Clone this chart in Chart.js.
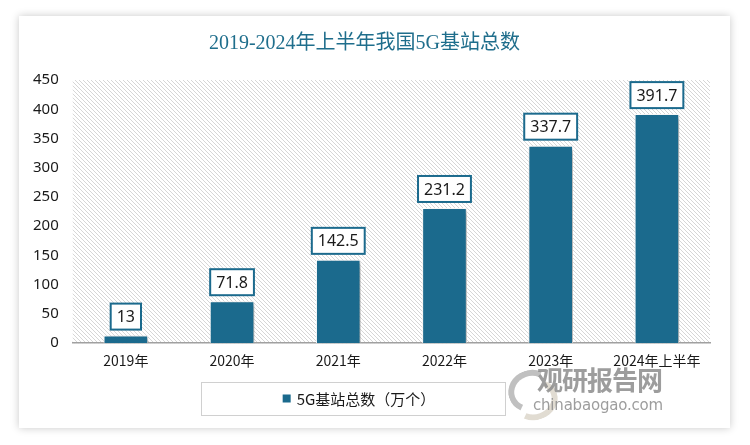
<!DOCTYPE html>
<html>
<head>
<meta charset="utf-8">
<script src="https://cdn.jsdelivr.net/npm/chart.js@4/dist/chart.umd.min.js"></script>
<style>
  html, body { margin: 0; padding: 0; background: #fff; }
  body { width: 750px; height: 445px; position: relative; overflow: hidden; }
  #card {
    position: absolute; left: 19px; top: 16px; width: 711px; height: 412px;
    background: #fff; box-shadow: 0 0 8px rgba(0,0,0,0.22);
  }
  #stage { display: block; }
  .wm { position: absolute; color: #8c8c8c; opacity: 0.85; white-space: nowrap; }
  #wm1 { left: 537px; top: 360px; font: bold 26px "Noto Sans CJK SC", sans-serif; letter-spacing: -1px; }
  #wm2 { left: 533px; top: 396px; font: 15px "DejaVu Sans", sans-serif; letter-spacing: -0.2px; }
  .sw { position: absolute; border-radius: 50%; border: 6px solid transparent; opacity: 0.55; }
  #sw1 { left: 508px; top: 370px; width: 34px; height: 30px; border-top-color: #8c8c8c; border-left-color: #8c8c8c; transform: rotate(-20deg); }
  #sw2 { left: 512px; top: 380px; width: 34px; height: 28px; border-bottom-color: #c8bfae; border-right-color: #c8bfae; transform: rotate(-20deg); }
</style>
</head>
<body>
<div id="card"><canvas id="stage" width="711" height="412"></canvas></div>
<div class="sw" id="sw1"></div>
<div class="sw" id="sw2"></div>
<div class="wm" id="wm1">观研报告网</div>
<div class="wm" id="wm2">chinabaogao.com</div>
<script>
// 年份と基站数（万个）
const categories = ['2019年', '2020年', '2021年', '2022年', '2023年', '2024年上半年'];
const stations = [13, 71.8, 142.5, 231.2, 337.7, 391.7];
const yTicks = [0, 50, 100, 150, 200, 250, 300, 350, 400, 450];
const seriesName = '5G基站总数（万个）';

const mainColor = '#1b6a8d';

// 斜線の背景パターン
function hatchPattern(ctx) {
  const c = document.createElement('canvas');
  c.width = 4; c.height = 4;
  const p = c.getContext('2d');
  p.fillStyle = '#ffffff';
  p.fillRect(0, 0, 4, 4);
  p.fillStyle = '#d6d6d6';
  for (let i = 0; i < 4; i++) p.fillRect(i, i, 1, 1);
  return ctx.createPattern(c, 'repeat');
}

const bgPlugin = {
  id: 'bg',
  beforeDraw(chart) {
    const {ctx, chartArea: a} = chart;
    ctx.save();
    ctx.fillStyle = hatchPattern(ctx);
    ctx.fillRect(a.left, a.top, a.right - a.left, a.bottom - a.top);
    ctx.restore();
  }
};

const shadowPlugin = {
  id: 'shadow',
  beforeDatasetsDraw(chart) {
    const ctx = chart.ctx;
    ctx.save();
    ctx.shadowColor = 'rgba(0,0,0,0.35)';
    ctx.shadowBlur = 5;
    ctx.shadowOffsetX = 3;
    ctx.shadowOffsetY = 2;
  },
  afterDatasetsDraw(chart) {
    chart.ctx.restore();
  }
};

// 値ラベルの枠
const labelPlugin = {
  id: 'boxLabels',
  afterDatasetsDraw(chart) {
    const ctx = chart.ctx;
    const meta = chart.getDatasetMeta(0);
    ctx.save();
    ctx.font = '16px "Noto Sans", "Open Sans", sans-serif';
    ctx.textAlign = 'center';
    ctx.textBaseline = 'middle';
    meta.data.forEach((bar, i) => {
      const txt = String(stations[i]);
      const w = ctx.measureText(txt).width + 12;
      const h = 26;
      const bottom = bar.y - 6;
      ctx.fillStyle = '#fff';
      ctx.fillRect(bar.x - w / 2, bottom - h, w, h);
      ctx.strokeStyle = mainColor;
      ctx.lineWidth = 2;
      ctx.strokeRect(bar.x - w / 2, bottom - h, w, h);
      ctx.fillStyle = '#1a1a1a';
      ctx.fillText(txt, bar.x, bottom - h / 2 + 1);
    });
    ctx.restore();
  }
};

// 凡例（枠付き）
const legendPlugin = {
  id: 'boxLegend',
  afterDraw(chart) {
    const ctx = chart.ctx;
    const ds = chart.data.datasets[0];
    const bx = 182, by = 366, bw = 304, bh = 33;
    ctx.save();
    ctx.strokeStyle = '#d0d0d0';
    ctx.lineWidth = 1;
    ctx.strokeRect(bx + 0.5, by + 0.5, bw, bh);
    ctx.font = '15px "Noto Sans CJK SC", sans-serif';
    ctx.textBaseline = 'middle';
    const tw = ctx.measureText(ds.label).width;
    const total = 8 + 6 + tw;
    const sx = bx + bw / 2 - total / 2 + 6;
    ctx.fillStyle = ds.backgroundColor;
    ctx.fillRect(sx, by + bh / 2 - 4, 8, 8);
    ctx.fillStyle = '#1a1a1a';
    ctx.fillText(ds.label, sx + 14, by + bh / 2 + 1);
    ctx.restore();
  }
};

new Chart(document.getElementById('stage'), {
  type: 'bar',
  data: {
    labels: categories,
    datasets: [{
      label: seriesName,
      data: stations,
      backgroundColor: mainColor,
      borderColor: '#ffffff',
      borderWidth: 1,
      barPercentage: 0.42,
      categoryPercentage: 1.0
    }]
  },
  options: {
    responsive: false,
    animation: false,
    layout: { padding: { left: 0, right: 20, top: 0, bottom: 50 } },
    plugins: {
      legend: { display: false },
      tooltip: { enabled: false },
      title: {
        display: true,
        text: '2019-2024年上半年我国5G基站总数',
        color: '#1f6e8c',
        font: { family: '"Liberation Serif", "Noto Sans CJK SC", serif', size: 20, weight: 'normal' },
        padding: { top: 16, bottom: 24 }
      }
    },
    scales: {
      x: {
        grid: { display: false, drawTicks: false },
        border: { color: '#a0a0a0', width: 1.5 },
        ticks: {
          color: '#1a1a1a',
          padding: 9,
          maxRotation: 0,
          autoSkip: false,
          font: { family: '"Noto Sans CJK SC", sans-serif', size: 14 }
        }
      },
      y: {
        min: 0,
        max: 450,
        afterBuildTicks(axis) { axis.ticks = yTicks.map(v => ({ value: v })); },
        grid: { display: false, drawTicks: false },
        border: { display: false },
        ticks: {
          color: '#1a1a1a',
          padding: 14,
          font: { family: '"Noto Sans", sans-serif', size: 15 }
        }
      }
    }
  },
  plugins: [bgPlugin, shadowPlugin, labelPlugin, legendPlugin]
});
</script>
</body>
</html>
